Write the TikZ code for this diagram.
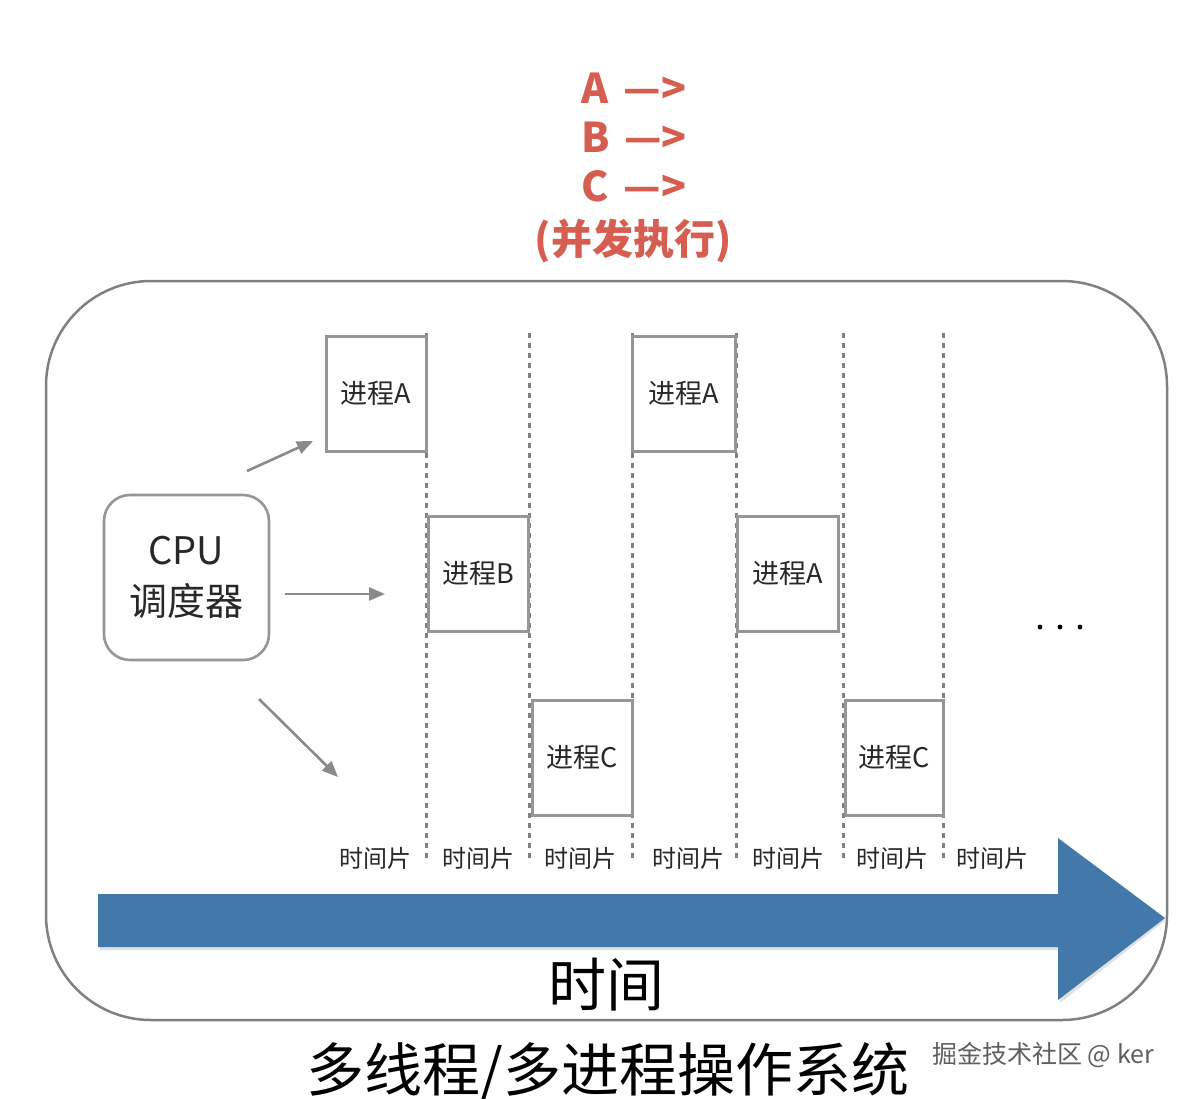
\documentclass[tikz,border=0pt]{standalone}
\usepackage{fontspec}
\setmainfont{Noto Sans CJK SC}
\usetikzlibrary{arrows.meta}
\definecolor{redtxt}{RGB}{214,94,80}
\definecolor{linegray}{RGB}{138,138,138}
\definecolor{boxgray}{RGB}{150,150,150}
\definecolor{dashgray}{RGB}{128,128,128}
\definecolor{framegray}{RGB}{128,128,128}
\definecolor{timeblue}{RGB}{67,121,170}
\definecolor{wmgray}{RGB}{95,95,95}
\definecolor{txtgray}{RGB}{40,40,40}
\begin{document}
\begin{tikzpicture}[x=1pt,y=-1pt,
  proc/.style={draw=boxgray, line width=3pt, fill=white, minimum width=100pt,
    minimum height=115pt, inner sep=0pt, font=\fontsize{27}{30}\selectfont, text=txtgray},
  slice/.style={inner sep=0pt, font=\fontsize{24}{26}\selectfont, text=txtgray},
  divider/.style={draw=dashgray, line width=3pt, dash pattern=on 5pt off 5pt},
  feed/.style={draw=linegray, line width=2.6pt, -{Triangle[length=16pt,width=13pt]}},
  headline/.style={inner sep=0pt, text=redtxt, font=\fontsize{41}{44}\selectfont\bfseries},
  sched/.style={draw=boxgray, line width=2.6pt, rounded corners=26pt, minimum width=165pt,
    minimum height=165pt, align=center, font=\fontsize{38}{51}\selectfont, text=txtgray},
]
\useasboundingbox (0,0) rectangle (1183,1098);
\fill[white] (0,0) rectangle (1183,1098);

% heading
\node[headline] (hA) at (634,88) {A\hspace{15pt}—>};
\node[headline] (hB) at (634,137) {B\hspace{15pt}—>};
\node[headline] (hC) at (634,186) {C\hspace{15pt}—>};
\node[headline] (hP) at (633,241) {(并发执行)};

% frame
\draw[framegray, line width=2.5pt, rounded corners=105pt] (46,281) rectangle (1167,1020);

% dividers
\foreach \x/\n in {426/d1,529/d2,632/d3,736/d4,843/d5,943/d6}{
  \coordinate (\n t) at (\x,333);
  \coordinate (\n b) at (\x,863);
  \draw[divider] (\n t) -- (\n b);
}

% process boxes
\node[proc] (pA1) at (376,393.5) {进程A};
\node[proc] (pB)  at (478,573.5) {进程B};
\node[proc] (pC1) at (582.5,757.5) {进程C};
\node[proc, minimum width=103pt] (pA2) at (683.5,393.5) {进程A};
\node[proc, minimum width=101pt] (pA3) at (787.5,573.5) {进程A};
\node[proc, minimum width=98pt] (pC2) at (894,757.5) {进程C};

% CPU scheduler
\node[sched] (cpu) at (186.5,577.5) {CPU\\调度器};

\coordinate (f1s) at (247,471); \coordinate (f1e) at (313,441);
\coordinate (f2s) at (285,594); \coordinate (f2e) at (385,594);
\coordinate (f3s) at (259,699); \coordinate (f3e) at (338,777);
\draw[feed] (f1s) -- (f1e);
\draw[feed] (f2s) -- (f2e);
\draw[feed] (f3s) -- (f3e);

% ellipsis
\foreach \x in {1040,1060,1080}{\fill[black] (\x,627) circle (2.4pt);}

% time slices
\foreach \x/\n in {375/s1,478/s2,580/s3,688/s4,788/s5,892/s6,992/s7}{
  \node[slice] (\n) at (\x,858) {时间片};
}

% time arrow
\fill[black!12] (100,897) -- (1060,897) -- (1060,841) -- (1166,920) -- (1060,1003) -- (1060,950) -- (100,950) -- cycle;
\fill[timeblue] (98,894) -- (1058,894) -- (1058,838) -- (1165,918) -- (1058,1000) -- (1058,947) -- (98,947) -- cycle;
\node[inner sep=0pt, font=\fontsize{58}{60}\selectfont, text=black] (tlabel) at (606,985) {时间};

% title
\node[inner sep=0pt, font=\fontsize{58}{60}\selectfont, text=black] (title) at (608,1072) {多线程/多进程操作系统};

% watermark
\node[inner sep=0pt, font=\fontsize{25}{27}\selectfont, text=wmgray] (wm) at (1043,1055) {掘金技术社区 @ ker};
\end{tikzpicture}
\end{document}
